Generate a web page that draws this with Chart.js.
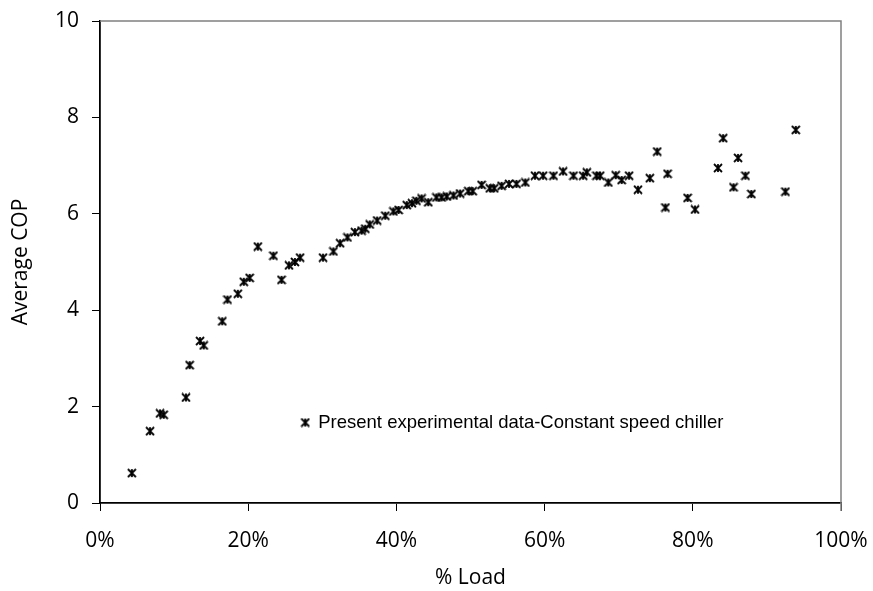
<!DOCTYPE html>
<html>
<head>
<meta charset="utf-8">
<script src="https://cdn.jsdelivr.net/npm/chart.js@4.4.1/dist/chart.umd.min.js"></script>
<style>
  html, body { margin: 0; padding: 0; background: #fff; }
  #wrap { width: 873px; height: 591px; }
</style>
</head>
<body>
<div id="wrap"><canvas id="cop-chart"></canvas></div>
<script>
// % load and average COP
var loads = [4.3, 6.75, 8.1, 8.6, 11.6, 12.1, 13.5, 14.0, 16.5, 17.2, 18.6, 19.4, 20.2, 21.3,
    23.4, 24.5, 25.5, 26.3, 27.0, 30.1, 31.5, 32.4, 33.4, 34.4, 35.3, 35.8, 36.4, 37.4,
    38.5, 39.6, 40.3, 41.4, 42.1, 42.7, 43.4, 44.3, 45.4, 46.1, 46.8, 47.7, 48.6, 49.7,
    50.3, 51.5, 52.6, 53.2, 54.2, 55.2, 56.2, 57.4, 58.7, 59.8, 61.2, 62.5, 63.9, 65.2,
    65.7, 67.0, 67.5, 68.6, 69.6, 70.4, 71.4, 72.6, 74.2, 75.2, 76.3, 76.6, 79.3, 80.3,
    83.4, 84.1, 85.5, 86.1, 87.1, 87.9, 92.5, 93.9];
var cop = [0.62, 1.49, 1.86, 1.83, 2.19, 2.86, 3.36, 3.27, 3.77, 4.22, 4.34, 4.59, 4.67, 5.32,
    5.13, 4.63, 4.93, 5.00, 5.09, 5.09, 5.22, 5.39, 5.51, 5.62, 5.65, 5.69, 5.78, 5.86,
    5.96, 6.05, 6.08, 6.18, 6.22, 6.27, 6.32, 6.24, 6.34, 6.34, 6.36, 6.38, 6.42, 6.47,
    6.47, 6.60, 6.53, 6.53, 6.58, 6.62, 6.62, 6.65, 6.79, 6.79, 6.79, 6.88, 6.79, 6.79,
    6.86, 6.79, 6.79, 6.65, 6.80, 6.70, 6.79, 6.50, 6.74, 7.29, 6.13, 6.83, 6.33, 6.09,
    6.95, 7.57, 6.55, 7.16, 6.79, 6.41, 6.46, 7.74];
var xTicks = [0, 20, 40, 60, 80, 100];
var yTicks = [0, 2, 4, 6, 8, 10];
var seriesName = "Present experimental data-Constant speed chiller";

var points = loads.map(function(v, i) { return { x: v, y: cop[i] }; });

// excel style star marker: an X with a vertical bar
function makeStar(size) {
    var c = document.createElement("canvas");
    c.width = size + 2;
    c.height = size + 2;
    var g = c.getContext("2d");
    var m = size / 2 + 1, r = size / 2;
    g.strokeStyle = "#000";
    g.lineWidth = 1.8;
    g.beginPath();
    g.moveTo(m - r, m - r); g.lineTo(m + r, m + r);
    g.moveTo(m + r, m - r); g.lineTo(m - r, m + r);
    g.moveTo(m, m - r); g.lineTo(m, m + r);
    g.stroke();
    return c;
}
var star = makeStar(8);
var axisFont = "'Open Sans', 'DejaVu Sans', sans-serif";

var frame = {
    id: "frame",
    beforeDatasetsDraw: function(chart) {
        var a = chart.chartArea, ctx = chart.ctx;
        ctx.save();
        ctx.strokeStyle = "#808080";
        ctx.lineWidth = 1.5;
        ctx.beginPath();
        ctx.moveTo(a.left, a.top);
        ctx.lineTo(a.right, a.top);
        ctx.lineTo(a.right, a.bottom + 8);
        ctx.stroke();
        ctx.restore();
    },
    afterDraw: function(chart) {
        // legend inside the plot area
        var ctx = chart.ctx;
        var lx = chart.scales.x.getPixelForValue(27.7);
        var ly = chart.scales.y.getPixelForValue(1.67);
        ctx.save();
        ctx.drawImage(star, lx - star.width / 2, ly - star.height / 2);
        ctx.fillStyle = "#000";
        ctx.font = "18.5px 'Liberation Sans', Arial, sans-serif";
        ctx.textBaseline = "middle";
        ctx.fillText(seriesName, lx + 13, ly);
        ctx.restore();
    }
};

new Chart(document.getElementById("cop-chart"), {
    type: "scatter",
    data: {
        datasets: [{
            label: seriesName,
            data: points,
            pointStyle: star,
            borderColor: "#000",
            backgroundColor: "#000"
        }]
    },
    options: {
        responsive: true,
        maintainAspectRatio: false,
        animation: false,
        layout: { padding: 0 },
        plugins: {
            legend: { display: false },
            tooltip: { enabled: false }
        },
        scales: {
            x: {
                type: "linear",
                min: 0,
                max: 100,
                afterBuildTicks: function(s) { s.ticks = xTicks.map(function(v) { return { value: v }; }); },
                afterFit: function(s) { s.height = 88; s.paddingRight = 32; },
                border: { color: "#000", width: 1.8 },
                grid: { drawOnChartArea: false, color: "#000", tickLength: 8 },
                ticks: {
                    color: "#000",
                    padding: 17,
                    font: { family: axisFont, size: 21 },
                    callback: function(v) { return v + "%"; }
                },
                title: {
                    display: true,
                    text: "% Load",
                    color: "#000",
                    font: { family: axisFont, size: 21 },
                    padding: { top: 4, bottom: 0 }
                }
            },
            y: {
                min: 0,
                max: 10,
                afterBuildTicks: function(s) { s.ticks = yTicks.map(function(v) { return { value: v }; }); },
                afterFit: function(s) { s.width = 100; s.paddingTop = 21; s.paddingBottom = 0; },
                border: { color: "#000", width: 1.8 },
                grid: { drawOnChartArea: false, color: "#000", tickLength: 8 },
                ticks: {
                    color: "#000",
                    padding: 13,
                    font: { family: axisFont, size: 21 }
                },
                title: {
                    display: true,
                    text: "Average COP",
                    color: "#000",
                    font: { family: axisFont, size: 21 },
                    padding: { top: 8, bottom: 4 }
                }
            }
        }
    },
    plugins: [frame]
});
</script>
</body>
</html>
